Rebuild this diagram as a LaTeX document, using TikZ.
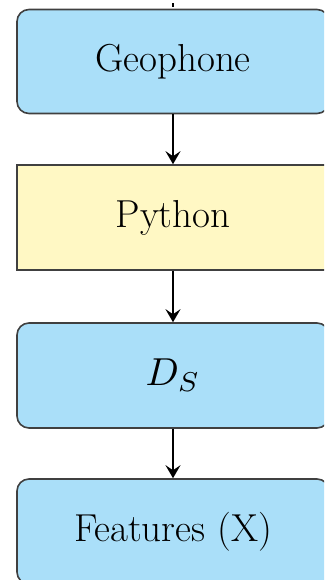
\documentclass[tikz,border=0pt]{standalone}
\usepackage{graphicx}
\usetikzlibrary{arrows.meta}
\definecolor{boxblue}{HTML}{AADFF9}
\definecolor{boxyellow}{HTML}{FFF8C4}
\definecolor{boxedge}{HTML}{404040}
\begin{document}
\begin{tikzpicture}[x=1pt,y=-1pt,
  base/.style={draw=boxedge,line width=1.6pt,minimum width=312pt,minimum height=104pt,inner sep=0pt,font=\fontsize{39}{45}\selectfont},
  roundbox/.style={base,fill=boxblue,rounded corners=12pt},
  plainbox/.style={base,fill=boxyellow},
  flow/.style={line width=1.8pt,-{Stealth[length=13pt,width=15pt,inset=5pt]}}]
\useasboundingbox (0,0) rectangle (324,580);
\clip (0,0) rectangle (324,580);
\node[roundbox] (geo) at (173,61.5) {Geophone};
\node[plainbox,minimum height=105pt] (py) at (173,217.5) {Python};
\node[roundbox,minimum height=105pt] (ds) at (173,375.5) {\scalebox{3.9}{\normalsize$D_S$}};
\node[roundbox,minimum height=105pt] (feat) at (173,531.5) {Features (X)};
\coordinate (top) at (173,3.5);
\coordinate (topend) at (173,7);
\draw[line width=1.6pt] (top) -- (topend);
\draw[flow] (geo) -- (py);
\draw[flow] (py) -- (ds);
\draw[flow] (ds) -- (feat);
\end{tikzpicture}
\end{document}
